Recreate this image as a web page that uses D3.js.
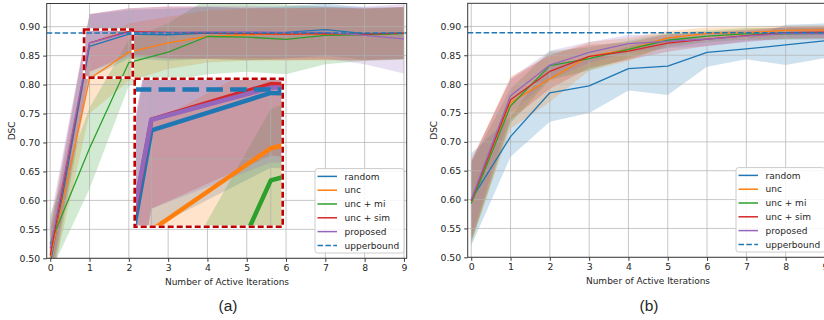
<!DOCTYPE html>
<html>
<head>
<meta charset="utf-8">
<script src="https://cdn.jsdelivr.net/npm/d3@7"></script>
<style>
  html, body { margin: 0; padding: 0; background: #fff; }
  text { font-family: "DejaVu Sans", sans-serif; fill: #262626; }
</style>
</head>
<body>
<svg id="chart" width="824" height="320"></svg>
<script>
// ---------- data ----------
const iterations = [0, 1, 2, 3, 4, 5, 6, 7, 8, 9];
const seriesNames = ["random", "unc", "unc + mi", "unc + sim", "proposed"];
const seriesColors = ["#1f77b4", "#ff7f0e", "#2ca02c", "#d62728", "#9467bd"];
const upperbound = 0.889;
const xTickValues = [0, 1, 2, 3, 4, 5, 6, 7, 8, 9];
const yTickValues = [0.50, 0.55, 0.60, 0.65, 0.70, 0.75, 0.80, 0.85, 0.90];
const xAxisTitle = "Number of Active Iterations";
const yAxisTitle = "DSC";
const panelLabels = ["(a)", "(b)"];

// panel (a) means
const aRandom   = [0.490, 0.866, 0.887, 0.886, 0.889, 0.887, 0.890, 0.895, 0.888, 0.889];
const aUnc      = [0.500, 0.810, 0.856, 0.872, 0.883, 0.886, 0.887, 0.887, 0.886, 0.889];
const aUncMi    = [0.525, 0.690, 0.838, 0.856, 0.883, 0.882, 0.878, 0.885, 0.886, 0.888];
const aUncSim   = [0.505, 0.872, 0.892, 0.890, 0.889, 0.888, 0.887, 0.888, 0.887, 0.889];
const aProposed = [0.517, 0.872, 0.890, 0.890, 0.891, 0.891, 0.890, 0.890, 0.885, 0.879];
// panel (a) std
const aRandomStd   = [0.050, 0.055, 0.042, 0.045, 0.045, 0.045, 0.045, 0.045, 0.045, 0.045];
const aUncStd      = [0.050, 0.060, 0.050, 0.045, 0.045, 0.045, 0.045, 0.045, 0.045, 0.045];
const aUncMiStd    = [0.050, 0.070, 0.040, 0.050, 0.065, 0.060, 0.060, 0.050, 0.045, 0.045];
const aUncSimStd   = [0.050, 0.050, 0.040, 0.045, 0.045, 0.045, 0.045, 0.045, 0.045, 0.045];
const aProposedStd = [0.050, 0.050, 0.042, 0.045, 0.045, 0.045, 0.045, 0.045, 0.050, 0.060];

// panel (b) means
const bRandom   = [0.600, 0.709, 0.785, 0.797, 0.827, 0.831, 0.855, 0.861, 0.868, 0.875];
const bUnc      = [0.597, 0.768, 0.809, 0.848, 0.860, 0.880, 0.888, 0.889, 0.893, 0.894];
const bUncMi    = [0.593, 0.762, 0.832, 0.844, 0.860, 0.876, 0.883, 0.887, 0.887, 0.888];
const bUncSim   = [0.598, 0.773, 0.822, 0.848, 0.857, 0.871, 0.878, 0.884, 0.889, 0.890];
const bProposed = [0.600, 0.780, 0.833, 0.855, 0.870, 0.874, 0.878, 0.883, 0.888, 0.887];
// panel (b) std
const bRandomStd   = [0.080, 0.035, 0.050, 0.047, 0.038, 0.050, 0.025, 0.018, 0.035, 0.030];
const bUncStd      = [0.070, 0.045, 0.040, 0.025, 0.020, 0.012, 0.010, 0.010, 0.008, 0.008];
const bUncMiStd    = [0.070, 0.030, 0.025, 0.020, 0.015, 0.012, 0.010, 0.010, 0.010, 0.010];
const bUncSimStd   = [0.070, 0.035, 0.030, 0.020, 0.015, 0.015, 0.012, 0.010, 0.010, 0.010];
const bProposedStd = [0.065, 0.030, 0.025, 0.018, 0.015, 0.012, 0.012, 0.010, 0.010, 0.010];

// zoom inset (panel a): region shown, in data units
const insetDomainX = [0.86, 2.10];
const insetDomainY = [0.812, 0.895];
const insetGridX = [1, 2];
const insetGridY = [0.85];

// ---------- layout ----------
const xDomain = [-0.09, 9.07];
const yDomain = [0.50, 0.94];
const panels = [
  { left: 46.7, right: 406.7, top: 3.5, bottom: 258.3,
    means: [aRandom, aUnc, aUncMi, aUncSim, aProposed],
    stds: [aRandomStd, aUncStd, aUncMiStd, aUncSimStd, aProposedStd],
    inset: { x0: 134.7, y0: 78.7, x1: 282.7, y1: 226.7 },
    label: panelLabels[0], labelX: 228, ylabX: 12, xlabX: 227, xlabY: 284.5 },
  { left: 467.7, right: 827.7, top: 3.3, bottom: 257.3,
    means: [bRandom, bUnc, bUncMi, bUncSim, bProposed],
    stds: [bRandomStd, bUncStd, bUncMiStd, bUncSimStd, bProposedStd],
    inset: null,
    label: panelLabels[1], labelX: 649, ylabX: 433.7, xlabX: 648, xlabY: 283.5 }
];

const svg = d3.select("#chart");
const defs = svg.append("defs");

function makeSeries(p) {
  return seriesNames.map((name, k) => ({
    name, color: seriesColors[k],
    pts: iterations.map((it, i) => ({ x: it, m: p.means[k][i], s: p.stds[k][i] }))
  }));
}

function drawContent(g, xs, ys, series, lw, dashLw, gridX, gridY, x0, x1, y0, y1) {
  const area = d3.area().x(d => xs(d.x)).y0(d => ys(d.m - d.s)).y1(d => ys(d.m + d.s));
  series.forEach(s => {
    g.append("path").attr("d", area(s.pts)).attr("fill", s.color).attr("fill-opacity", 0.22).attr("stroke", "none");
  });
  gridX.forEach(v => g.append("line").attr("x1", xs(v)).attr("x2", xs(v)).attr("y1", y0).attr("y2", y1)
    .attr("stroke", "#b0b0b0").attr("stroke-opacity", 0.7).attr("stroke-width", 1));
  gridY.forEach(v => g.append("line").attr("x1", x0).attr("x2", x1).attr("y1", ys(v)).attr("y2", ys(v))
    .attr("stroke", "#b0b0b0").attr("stroke-opacity", 0.7).attr("stroke-width", 1));
  const line = d3.line().x(d => xs(d.x)).y(d => ys(d.m));
  series.forEach(s => {
    g.append("path").attr("d", line(s.pts)).attr("fill", "none").attr("stroke", s.color)
      .attr("stroke-width", lw).attr("stroke-linejoin", "round");
  });
  g.append("line").attr("x1", x0).attr("x2", x1).attr("y1", ys(upperbound)).attr("y2", ys(upperbound))
    .attr("stroke", "#1f77b4").attr("stroke-width", dashLw)
    .attr("stroke-dasharray", (3.7 * dashLw) + "," + (1.6 * dashLw));
}

function dashedRect(g, x0, y0, x1, y1) {
  g.append("rect").attr("x", x0).attr("y", y0).attr("width", x1 - x0).attr("height", y1 - y0)
    .attr("fill", "none").attr("stroke", "#ffffff").attr("stroke-width", 2.6);
  g.append("rect").attr("x", x0).attr("y", y0).attr("width", x1 - x0).attr("height", y1 - y0)
    .attr("fill", "none").attr("stroke", "#c00000").attr("stroke-width", 2.6)
    .attr("stroke-dasharray", "6,3");
}

panels.forEach((p, pi) => {
  const xs = d3.scaleLinear().domain(xDomain).range([p.left, p.right]);
  const ys = d3.scaleLinear().domain(yDomain).range([p.bottom, p.top]);
  const series = makeSeries(p);
  const g = svg.append("g");

  const clipId = "clip" + pi;
  defs.append("clipPath").attr("id", clipId).append("rect")
    .attr("x", p.left).attr("y", p.top).attr("width", p.right - p.left).attr("height", p.bottom - p.top);

  const plot = g.append("g").attr("clip-path", "url(#" + clipId + ")");
  drawContent(plot, xs, ys, series, 1.3, 1.5, xTickValues, yTickValues, p.left, p.right, p.top, p.bottom);

  if (p.inset) {
    const r = p.inset;
    const ixs = d3.scaleLinear().domain(insetDomainX).range([r.x0, r.x1]);
    const iys = d3.scaleLinear().domain(insetDomainY).range([r.y1, r.y0]);
    dashedRect(g, xs(insetDomainX[0]), ys(insetDomainY[1]), xs(insetDomainX[1]), ys(insetDomainY[0]));
    const iclip = "iclip" + pi;
    defs.append("clipPath").attr("id", iclip).append("rect")
      .attr("x", r.x0).attr("y", r.y0).attr("width", r.x1 - r.x0).attr("height", r.y1 - r.y0);
    const ig = g.append("g");
    ig.append("rect").attr("x", r.x0).attr("y", r.y0).attr("width", r.x1 - r.x0).attr("height", r.y1 - r.y0)
      .attr("fill", "#fff");
    const ic = ig.append("g").attr("clip-path", "url(#" + iclip + ")");
    drawContent(ic, ixs, iys, series, 4.5, 4.5, insetGridX, insetGridY, r.x0, r.x1, r.y0, r.y1);
    dashedRect(ig, r.x0, r.y0, r.x1, r.y1);
  }

  g.append("rect").attr("x", p.left).attr("y", p.top).attr("width", p.right - p.left).attr("height", p.bottom - p.top)
    .attr("fill", "none").attr("stroke", "#3a3a3a").attr("stroke-width", 1);

  const xAxis = d3.axisBottom(xs).tickValues(xTickValues).tickSize(3.5).tickPadding(3).tickFormat(d3.format("d"));
  const yAxis = d3.axisLeft(ys).tickValues(yTickValues).tickSize(3.5).tickPadding(3).tickFormat(d3.format(".2f"));
  const gx = g.append("g").attr("transform", "translate(0," + p.bottom + ")").call(xAxis);
  const gy = g.append("g").attr("transform", "translate(" + p.left + ",0)").call(yAxis);
  [gx, gy].forEach(a => {
    a.select(".domain").remove();
    a.selectAll(".tick line").attr("stroke", "#3a3a3a");
    a.selectAll(".tick text").style("font-family", "DejaVu Sans").style("font-size", "9.3px").attr("fill", "#262626");
  });

  g.append("text").attr("x", p.xlabX).attr("y", p.xlabY)
    .attr("text-anchor", "middle").style("font-size", "9px").text(xAxisTitle);
  g.append("text").attr("transform", "translate(" + (p.ylabX + 3) + "," + ((p.top + p.bottom) / 2) + ") rotate(-90)")
    .attr("text-anchor", "middle").style("font-size", "9px").text(yAxisTitle);

  g.append("text").attr("x", p.labelX).attr("y", 311).attr("text-anchor", "middle")
    .style("font-family", "Liberation Sans, Arial, sans-serif").style("font-size", "15.5px").text(p.label);

  const lw = 89, lh = 84.4;
  const lx = p.right - 2.7 - lw, ly = p.bottom - 5.3 - lh;
  const lg = g.append("g");
  lg.append("rect").attr("x", lx).attr("y", ly).attr("width", lw).attr("height", lh).attr("rx", 2.5)
    .attr("fill", "#fff").attr("fill-opacity", 0.85).attr("stroke", "#cccccc").attr("stroke-width", 1);
  const entries = series.map(s => ({ name: s.name, color: s.color, dash: null }))
    .concat([{ name: "upperbound", color: "#1f77b4", dash: "5.5,2.4" }]);
  entries.forEach((e, i) => {
    const cy = ly + 7.8 + i * 13.8;
    lg.append("line").attr("x1", lx + 2.5).attr("x2", lx + 22).attr("y1", cy).attr("y2", cy)
      .attr("stroke", e.color).attr("stroke-width", 1.5).attr("stroke-dasharray", e.dash);
    lg.append("text").attr("x", lx + 29.5).attr("y", cy + 3.2).style("font-size", "9px").text(e.name);
  });
});
</script>
</body>
</html>
